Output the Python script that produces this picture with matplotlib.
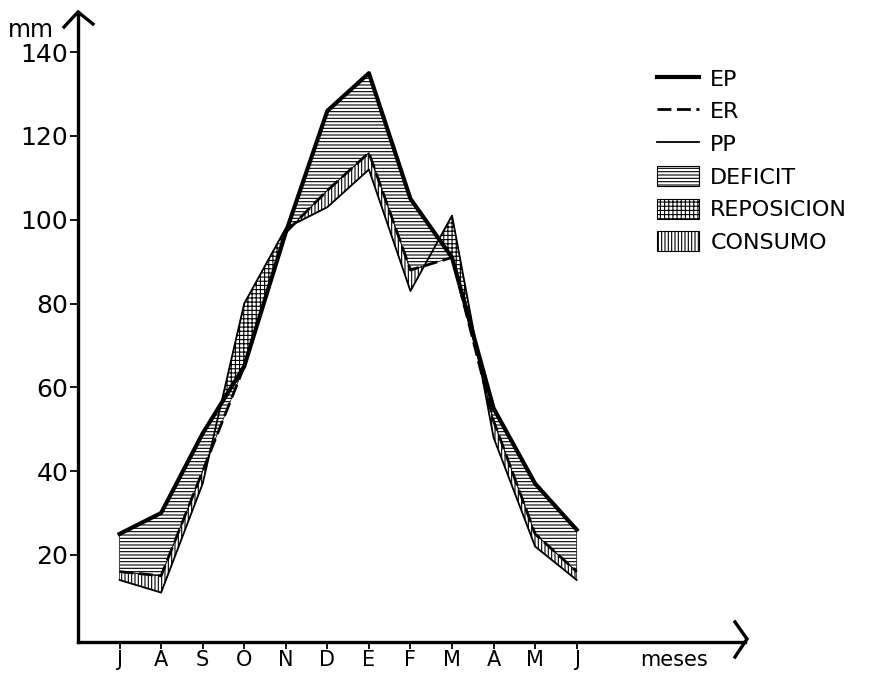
import numpy as np
import matplotlib
matplotlib.use('Agg')
import matplotlib.pyplot as plt
from matplotlib.lines import Line2D
from matplotlib.patches import Patch

# balance hidrico, meses de julio a junio
meses = ['J', 'A', 'S', 'O', 'N', 'D', 'E', 'F', 'M', 'A', 'M', 'J']
ep = [25, 30, 49, 65, 97, 126, 135, 105, 91, 55, 37, 26]   # evapotranspiracion potencial
er = [16, 15, 40, 65, 97, 107, 116, 88, 91, 52, 25, 16]    # evapotranspiracion real
pp = [14, 11, 37, 80, 98, 103, 112, 83, 101, 48, 22, 14]   # precipitacion

plt.rcParams['hatch.linewidth'] = 0.8
plt.rcParams['font.family'] = ['DejaVu Sans']

W, H = 892, 676
fig = plt.figure(figsize=(W / 100, H / 100), dpi=100)
ax = fig.add_axes([78 / W, 1 - 642 / H, (745 - 78) / W, (642 - 12) / H])

x = np.arange(len(meses))
ep_a, er_a, pp_a = np.array(ep), np.array(er), np.array(pp)

# deficit, reposicion, consumo
ax.fill_between(x, ep_a, er_a, where=ep_a >= er_a, interpolate=True,
                facecolor='none', edgecolor='black', hatch='-----', linewidth=0.5)
ax.fill_between(x, pp_a, ep_a, where=pp_a >= ep_a, interpolate=True,
                facecolor='none', edgecolor='black', hatch='++++', linewidth=0.5)
ax.fill_between(x, er_a, pp_a, where=er_a >= pp_a, interpolate=True,
                facecolor='none', edgecolor='black', hatch='|||||', linewidth=0.5)

ax.plot(x, ep, color='black', lw=3.0)
ax.plot(x, er, color='black', lw=2.0, linestyle=(0, (5, 2)))
ax.plot(x, pp, color='black', lw=1.3)

ax.set_xlim(-1.0, 15.05)
ax.set_ylim(-0.8, 149.6)
ax.set_xticks(x)
ax.set_xticklabels(meses)
ax.set_yticks([20, 40, 60, 80, 100, 120, 140])

for s in ['top', 'right']:
    ax.spines[s].set_visible(False)
for s in ['left', 'bottom']:
    ax.spines[s].set_linewidth(2.4)
ax.tick_params(axis='y', direction='out', length=6, width=1.3, labelsize=18, pad=1)
ax.tick_params(axis='x', direction='out', length=5, width=1.3, labelsize=15, pad=1)

# flechas de los ejes
fig.add_artist(Line2D([64 / W, 78 / W, 93 / W], [1 - 27 / H, 1 - 12 / H, 1 - 24 / H],
                      color='black', lw=2.4, solid_joinstyle='miter'))
fig.add_artist(Line2D([735 / W, 747 / W, 735 / W], [1 - 622 / H, 1 - 639 / H, 1 - 657 / H],
                      color='black', lw=2.4, solid_joinstyle='miter'))

fig.text(8 / W, 1 - 30 / H, 'mm', fontsize=17, va='center', ha='left')
fig.text(640 / W, 1 - 660 / H, 'meses', fontsize=15, va='center', ha='left')

handles = [
    Line2D([], [], color='black', lw=3.0),
    Line2D([], [], color='black', lw=2.0, linestyle=(0, (5, 2))),
    Line2D([], [], color='black', lw=1.3),
    Patch(facecolor='none', edgecolor='black', hatch='-----', linewidth=0.8),
    Patch(facecolor='none', edgecolor='black', hatch='++++', linewidth=0.8),
    Patch(facecolor='none', edgecolor='black', hatch='|||||', linewidth=0.8),
]
labels = ['EP', 'ER', 'PP', 'DEFICIT', 'REPOSICION', 'CONSUMO']
fig.legend(handles, labels, loc='upper left', bbox_to_anchor=(657 / W, 1 - 68 / H),
           frameon=False, fontsize=16, handlelength=1.9, handleheight=1.0,
           labelspacing=0.5, handletextpad=0.5, borderpad=0, borderaxespad=0)

fig.savefig('out.png', dpi=100)
